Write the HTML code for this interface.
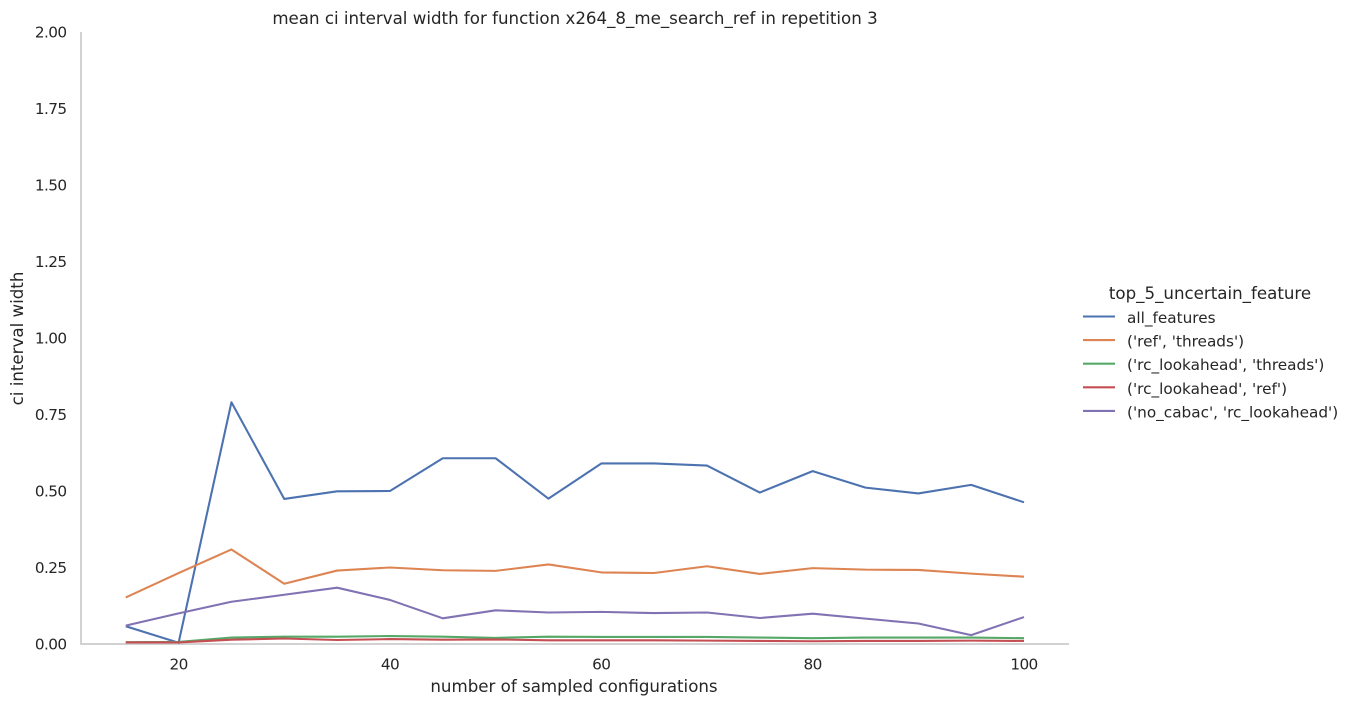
<!DOCTYPE html>
<html>
<head>
<meta charset="utf-8">
<title>mean ci interval width</title>
<style>
html,body{margin:0;padding:0;background:#fff;width:1351px;height:706px;overflow:hidden}
svg{display:block}
text{font-family:"DejaVu Sans","Liberation Sans",sans-serif;fill:#262626}
</style>
</head>
<body>
<svg id="chart" width="1351" height="706" viewBox="0 0 1351 706" xmlns="http://www.w3.org/2000/svg">
<text x="575" y="24" text-anchor="middle" font-size="16.67">mean ci interval width for function x264_8_me_search_ref in repetition 3</text>
<text x="574" y="692" text-anchor="middle" font-size="16.67">number of sampled configurations</text>
<text transform="translate(23,338.5) rotate(-90)" text-anchor="middle" font-size="16.67">ci interval width</text>
<line x1="81" y1="32" x2="81" y2="644.9" stroke="#cccccc" stroke-width="1.74"/>
<line x1="81" y1="644" x2="1069" y2="644" stroke="#cccccc" stroke-width="1.74"/>
<g id="xticks"></g>
<g id="yticks"></g>
<g id="series"></g>
<g id="legend">
<text x="1210" y="299" text-anchor="middle" font-size="16.67">top_5_uncertain_feature</text>
</g>
</svg>
<script>
const categories = [15, 20, 25, 30, 35, 40, 45, 50, 55, 60, 65, 70, 75, 80, 85, 90, 95, 100];
const xTickValues = [20, 40, 60, 80, 100];
const yTickValues = [0, 0.25, 0.5, 0.75, 1, 1.25, 1.5, 1.75, 2];
const seriesNames = ["all_features", "('ref', 'threads')", "('rc_lookahead', 'threads')", "('rc_lookahead', 'ref')", "('no_cabac', 'rc_lookahead')"];
const seriesColors = ["#4c72b0", "#dd8452", "#55a868", "#c44e52", "#8172b3"];
const allFeatures = [0.058, 0.004, 0.790, 0.474, 0.499, 0.500, 0.607, 0.607, 0.475, 0.590, 0.590, 0.583, 0.495, 0.565, 0.511, 0.492, 0.520, 0.463];
const refThreads = [0.152, 0.232, 0.309, 0.197, 0.240, 0.250, 0.241, 0.239, 0.260, 0.234, 0.232, 0.254, 0.229, 0.248, 0.243, 0.242, 0.230, 0.220];
const rcLookaheadThreads = [0.006, 0.007, 0.021, 0.024, 0.024, 0.026, 0.024, 0.020, 0.024, 0.023, 0.023, 0.023, 0.021, 0.019, 0.021, 0.021, 0.021, 0.019];
const rcLookaheadRef = [0.005, 0.005, 0.014, 0.018, 0.013, 0.016, 0.014, 0.015, 0.012, 0.012, 0.012, 0.011, 0.010, 0.009, 0.010, 0.010, 0.011, 0.010];
const noCabacRcLookahead = [0.060, 0.100, 0.138, 0.161, 0.184, 0.144, 0.084, 0.110, 0.103, 0.105, 0.101, 0.103, 0.085, 0.099, 0.083, 0.067, 0.029, 0.088];
const seriesValues = [allFeatures, refThreads, rcLookaheadThreads, rcLookaheadRef, noCabacRcLookahead];

const NS = 'http://www.w3.org/2000/svg';
function xScale(v) { return 178.6 + (v - 20) * (1024 - 178.6) / 80; }
function yScale(v) { return 644 - v * 306; }

const xTicks = document.getElementById('xticks');
xTickValues.forEach(function (v) {
  const t = document.createElementNS(NS, 'text');
  t.setAttribute('x', xScale(v));
  t.setAttribute('y', 669.5);
  t.setAttribute('text-anchor', 'middle');
  t.setAttribute('font-size', '15.28');
  t.setAttribute('letter-spacing', '-0.6');
  
  
  t.textContent = String(v);
  xTicks.appendChild(t);
});

const yTicks = document.getElementById('yticks');
yTickValues.forEach(function (v) {
  const t = document.createElementNS(NS, 'text');
  t.setAttribute('x', 66.5);
  t.setAttribute('y', yScale(v) + 5.5);
  t.setAttribute('text-anchor', 'end');
  t.setAttribute('font-size', '15.28');
  t.setAttribute('letter-spacing', '-0.6');
  
  
  t.textContent = v.toFixed(2);
  yTicks.appendChild(t);
});

const seriesGroup = document.getElementById('series');
seriesValues.forEach(function (vals, i) {
  const p = document.createElementNS(NS, 'polyline');
  p.setAttribute('points', vals.map(function (v, j) {
    return xScale(categories[j]).toFixed(2) + ',' + yScale(v).toFixed(2);
  }).join(' '));
  p.setAttribute('fill', 'none');
  p.setAttribute('stroke', seriesColors[i]);
  p.setAttribute('stroke-width', '2.08');
  p.setAttribute('stroke-linejoin', 'round');
  
  
  seriesGroup.appendChild(p);
});

const legend = document.getElementById('legend');
seriesNames.forEach(function (name, i) {
  const rowY = 316.5 + i * 23.6;
  const l = document.createElementNS(NS, 'line');
  l.setAttribute('x1', 1083);
  l.setAttribute('x2', 1115);
  l.setAttribute('y1', rowY);
  l.setAttribute('y2', rowY);
  l.setAttribute('stroke', seriesColors[i]);
  l.setAttribute('stroke-width', '2.08');
  
  
  legend.appendChild(l);
  const t = document.createElementNS(NS, 'text');
  t.setAttribute('x', 1127);
  t.setAttribute('y', rowY + 6.5);
  t.setAttribute('font-size', '15.28');
  
  
  t.textContent = name;
  legend.appendChild(t);
});
</script>
</body>
</html>
